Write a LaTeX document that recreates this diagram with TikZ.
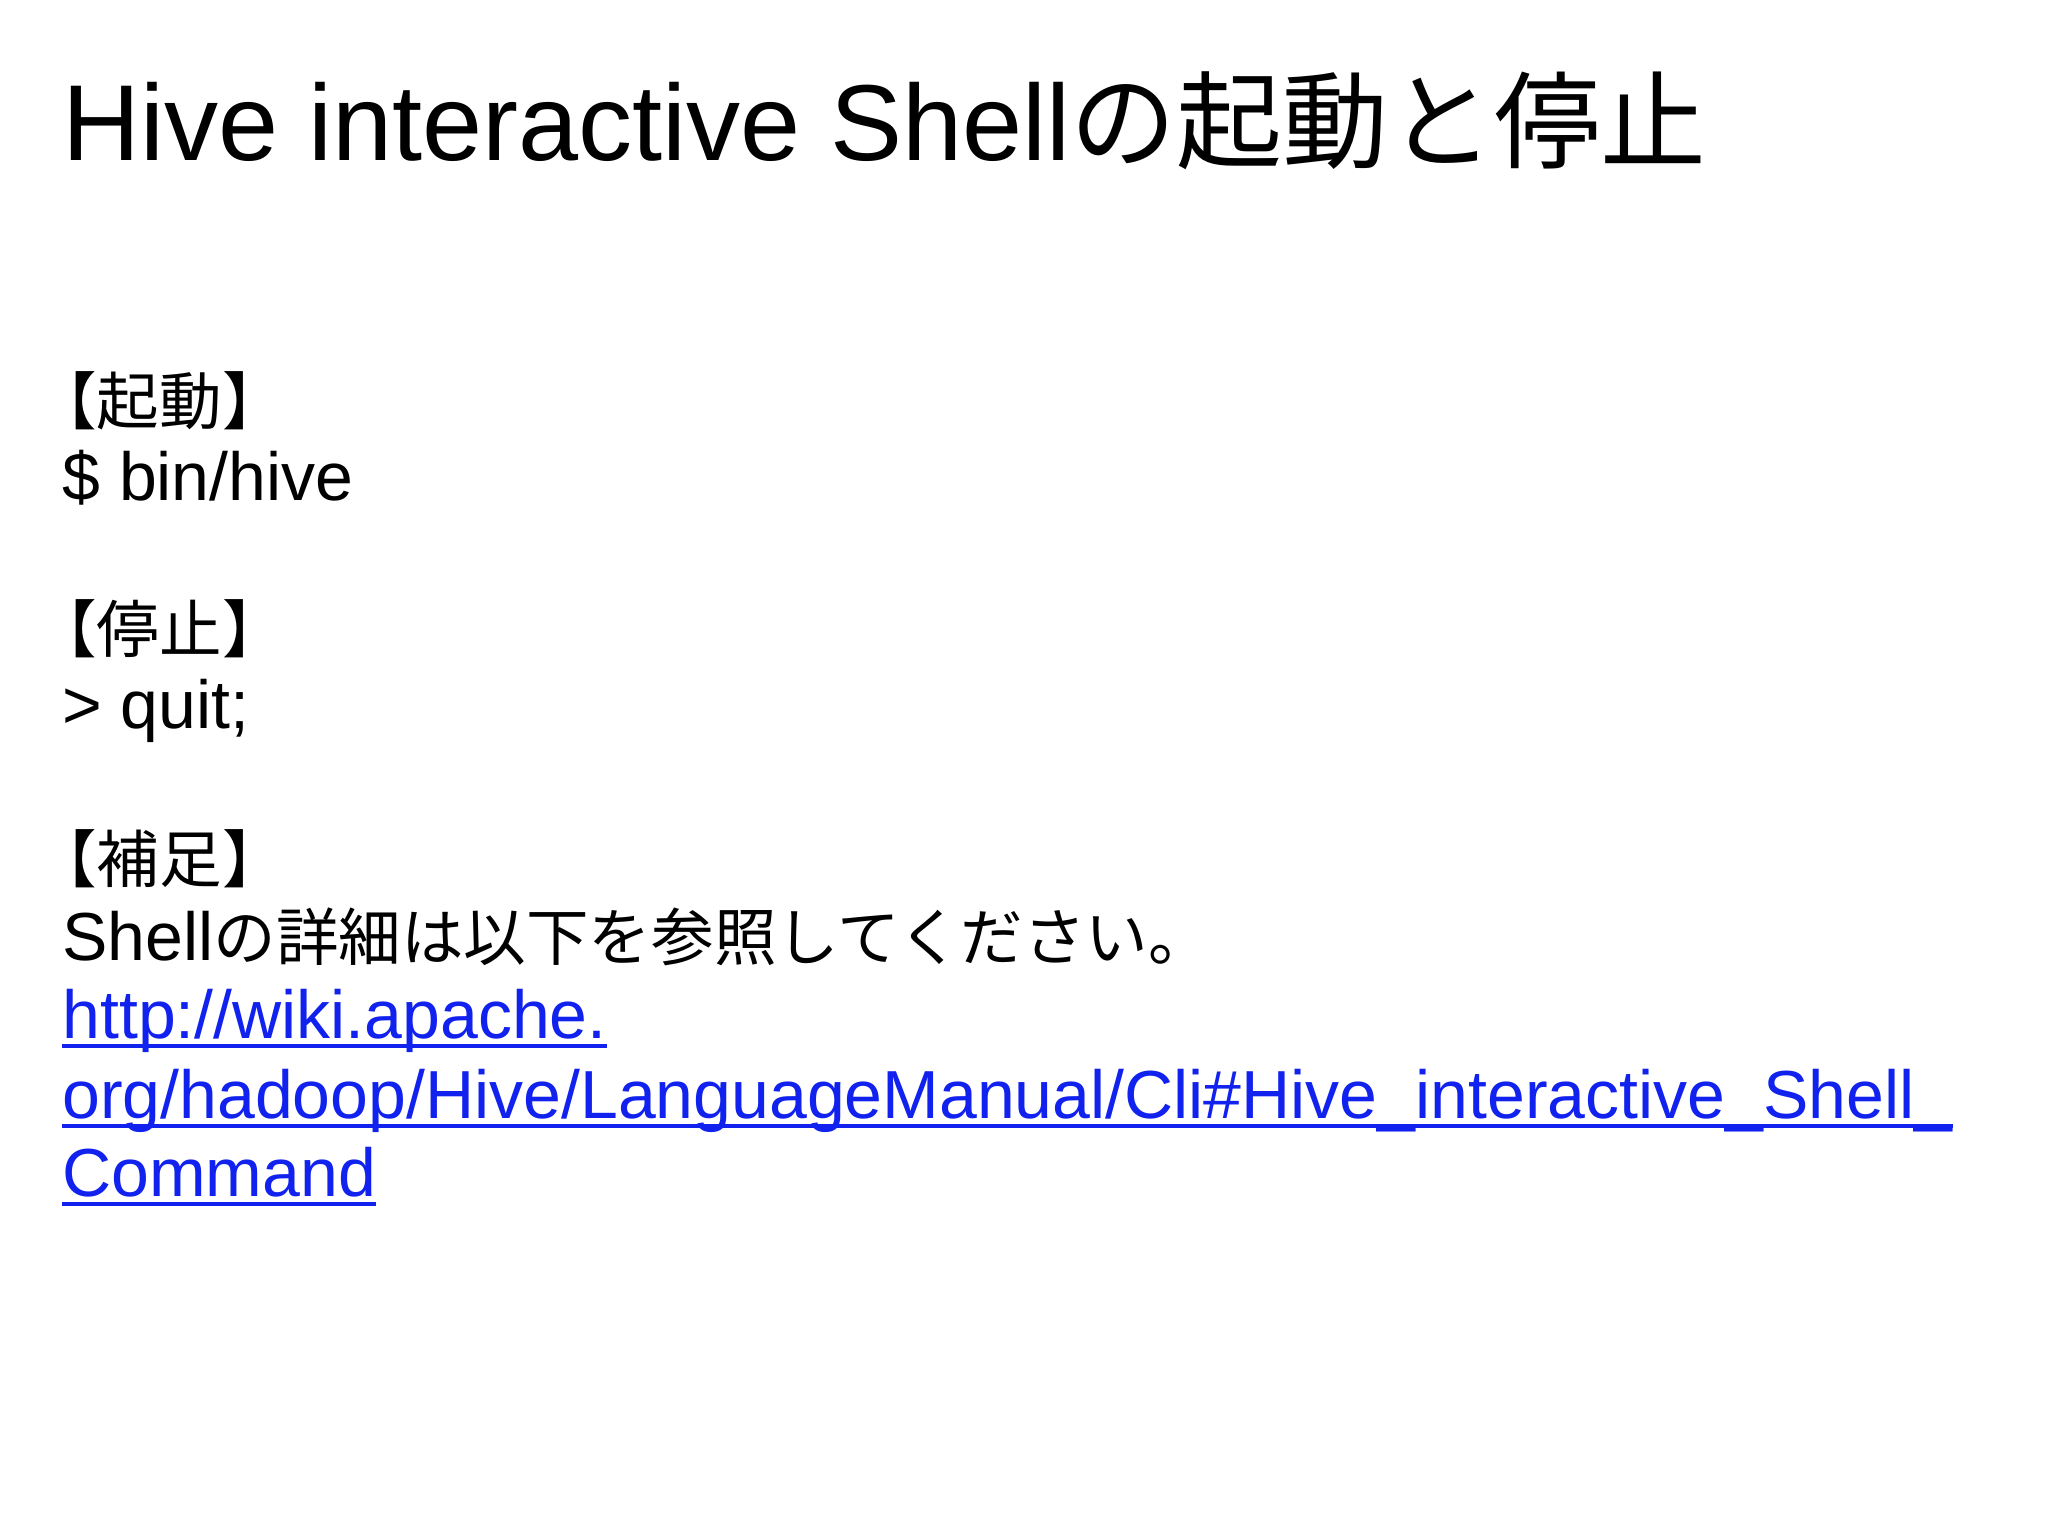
\documentclass[tikz,border=0pt]{standalone}
\usepackage{fontspec}
\setmainfont{Liberation Sans}
\newfontfamily\cjk[Scale=0.98]{Noto Sans CJK JP}
\newfontfamily\cjkb[Scale=0.92]{Noto Sans CJK JP}
\definecolor{linkblue}{RGB}{17,34,238}
\begin{document}
\begin{tikzpicture}[x=1pt,y=1pt,
  line/.style={anchor=base west,inner sep=0pt,font=\fontsize{34}{38}\selectfont},
  link/.style={line,text=linkblue}]
\useasboundingbox (0,0) rectangle (1024,-768);
\node[line,font=\fontsize{54}{60}\selectfont] (title) at (31,-80) {Hive interactive Shell{\cjk の起動と停止}};
\node[line] (l1) at (17,-212) {{\cjkb 【起動】}};
\node[line] (l2) at (31,-250) {\$ bin/hive};
\node[line] (l3) at (17,-326) {{\cjkb 【停止】}};
\node[line] (l4) at (31,-364) {> quit;};
\node[line] (l5) at (17,-441) {{\cjkb 【補足】}};
\node[line] (l6) at (31,-480) {Shell{\cjkb の詳細は以下を参照してください。}};
\node[link] (l7) at (31,-519) {http://wiki.apache.};
\node[link] (l8) at (31,-559) {org/hadoop/Hive/LanguageManual/Cli\#Hive\_interactive\_Shell\_};
\node[link] (l9) at (31,-598) {Command};
\foreach \n in {l7,l8,l9}
  \draw[linkblue,line width=1.8pt] ([yshift=-4pt]\n.base west) -- ([yshift=-4pt]\n.base east);
\end{tikzpicture}
\end{document}
